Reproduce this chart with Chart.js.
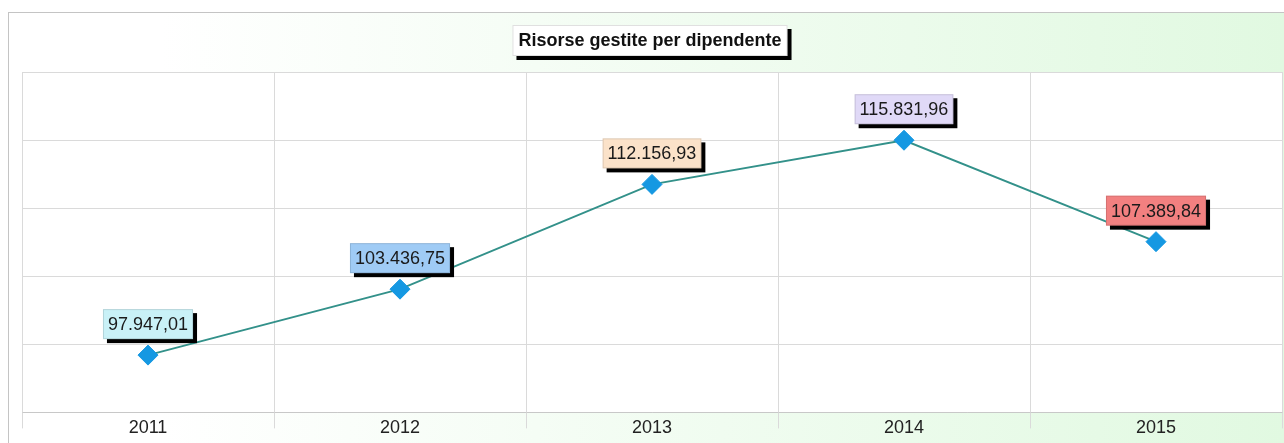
<!DOCTYPE html>
<html>
<head>
<meta charset="utf-8">
<script src="https://cdn.jsdelivr.net/npm/chart.js@4/dist/chart.umd.min.js"></script>
<style>
  html, body { margin: 0; padding: 0; overflow: hidden; background: #ffffff; width: 1284px; height: 443px; }
  #frame {
    position: absolute; left: 8px; top: 12px; width: 1275px; height: 431px;
    border-left: 1px solid #c4c4c4; border-top: 1px solid #c4c4c4;
    background: linear-gradient(to right, #ffffff 0%, #ffffff 12%, #e1f9e1 100%);
  }
  #wrap { position: absolute; left: 0; top: 0; width: 1293px; height: 449px; }
  canvas { display: block; }
</style>
</head>
<body>
<div id="frame"></div>
<!-- canvas is a bit larger than the window: line charts reserve room for the end markers -->
<div id="wrap"><canvas id="chartRisorse" width="1293" height="449"></canvas></div>
<script>
var chartTitle = "Risorse gestite per dipendente";
var years = ["2011", "2012", "2013", "2014", "2015"];
var values = [97947.01, 103436.75, 112156.93, 115831.96, 107389.84];
var yMin = 93180;
var yMax = 121510;

var labelColors = ["#c9f1f7", "#9fcbf5", "#fbe2c9", "#e0d9f7", "#f28080"];

// format number italian style: 97.947,01
function formatIt(v) {
    var parts = v.toFixed(2).split(".");
    var intPart = parts[0].replace(/\B(?=(\d{3})+(?!\d))/g, ".");
    return intPart + "," + parts[1];
}

function drawShadowBox(ctx, x, y, w, h, fill) {
    ctx.fillStyle = "#000000";
    ctx.fillRect(x + 4, y + 4, w, h);
    ctx.fillStyle = fill;
    ctx.fillRect(x, y, w, h);
    ctx.strokeStyle = "rgba(0,0,0,0.12)";
    ctx.lineWidth = 1;
    ctx.strokeRect(x + 0.5, y + 0.5, w - 1, h - 1);
}

var plotBackground = {
    id: 'plotBackground',
    beforeDraw: function (chart) {
        var ctx = chart.ctx, a = chart.chartArea;
        ctx.save();
        ctx.fillStyle = "#ffffff";
        ctx.fillRect(a.left, a.top, a.right - a.left, a.bottom - a.top);
        ctx.restore();
    }
};

// vertical grid lines run a little below the plot, between the year labels
var gridTails = {
    id: 'gridTails',
    afterDraw: function (chart) {
        var ctx = chart.ctx, a = chart.chartArea, xs = chart.scales.x;
        ctx.save();
        ctx.strokeStyle = "#dadada";
        ctx.lineWidth = 1;
        for (var i = 0; i <= years.length; i++) {
            var px = Math.round(xs.getPixelForValue(i - 0.5)) + 0.5;
            ctx.beginPath();
            ctx.moveTo(px, a.bottom);
            ctx.lineTo(px, a.bottom + 16);
            ctx.stroke();
        }
        ctx.restore();
    }
};

var titleBox = {
    id: 'titleBox',
    afterDraw: function (chart) {
        var ctx = chart.ctx, a = chart.chartArea;
        ctx.save();
        ctx.font = "bold 18px 'Liberation Sans', Arial, sans-serif";
        var w = ctx.measureText(chartTitle).width + 12;
        var cx = (a.left + a.right) / 2 - 2;
        drawShadowBox(ctx, cx - w / 2, 25, w, 31, "#ffffff");
        ctx.fillStyle = "#111111";
        ctx.textAlign = "center";
        ctx.textBaseline = "middle";
        ctx.fillText(chartTitle, cx, 41);
        ctx.restore();
    }
};

var valueLabels = {
    id: 'valueLabels',
    afterDatasetsDraw: function (chart) {
        var ctx = chart.ctx;
        var meta = chart.getDatasetMeta(0);
        ctx.save();
        ctx.font = "18px 'Liberation Sans', Arial, sans-serif";
        ctx.textAlign = "center";
        ctx.textBaseline = "middle";
        meta.data.forEach(function (pt, i) {
            var txt = formatIt(values[i]);
            var w = ctx.measureText(txt).width + 10;
            var h = 30;
            var bx = pt.x - w / 2;
            var by = pt.y - 16 - h;
            drawShadowBox(ctx, bx, by, w, h, labelColors[i]);
            ctx.fillStyle = "#1a1a1a";
            ctx.fillText(txt, pt.x, by + h / 2 + 1);
        });
        ctx.restore();
    }
};

var ctx = document.getElementById('chartRisorse').getContext('2d');

var graph = new Chart(ctx, {
    type: 'line',
    data: {
        labels: years,
        datasets: [
            {
                label: chartTitle,
                data: values,
                borderColor: "#33918a",
                borderWidth: 2,
                tension: 0,
                fill: false,
                pointStyle: 'rectRot',
                pointRadius: 10,
                pointHoverRadius: 10,
                pointBackgroundColor: "#1598e2",
                pointBorderColor: "#1598e2",
                pointBorderWidth: 1
            }
        ]
    },
    options: {
        responsive: false,
        animation: false,
        devicePixelRatio: 1,
        layout: {
            padding: { left: 22, right: 2, top: 72, bottom: 5 }
        },
        plugins: {
            legend: { display: false },
            title: { display: false },
            tooltip: { enabled: false }
        },
        scales: {
            x: {
                offset: true,
                grid: {
                    offset: true,
                    color: "#dadada",
                    drawTicks: false
                },
                border: { color: "#c8c8c8" },
                ticks: {
                    color: "#222222",
                    padding: 5,
                    font: { family: "'Liberation Sans', Arial, sans-serif", size: 18 }
                }
            },
            y: {
                min: yMin,
                max: yMax,
                ticks: { display: false, count: 6 },
                grid: { color: "#dadada", drawTicks: false },
                border: { display: false }
            }
        }
    },
    plugins: [plotBackground, valueLabels, gridTails, titleBox]
});
</script>
</body>
</html>
